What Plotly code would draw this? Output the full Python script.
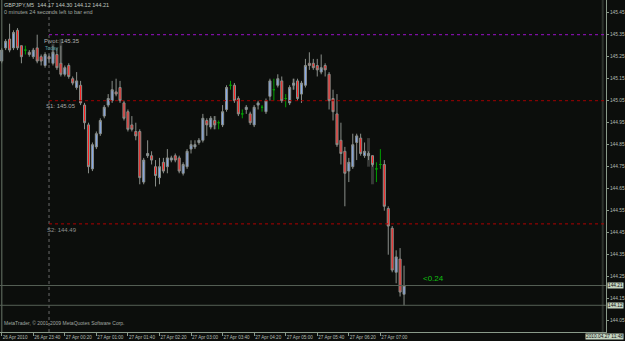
import plotly.graph_objects as go

# ---- data (GBPJPY, M5; index 0 = 26 Apr 2010 23:00) ----
opens = [145.23,145.29,145.33,145.29,145.37,145.30,145.28,145.27,145.25,145.29,
         145.25,145.21,145.25,145.22,145.26,145.22,145.17,145.21,145.15,145.11,
         145.12,145.03,144.94,144.74,144.84,144.90,144.98,145.03,145.05,145.09,
         145.11,145.04,145.00,144.94,144.91,144.91,144.68,144.80,144.80,144.75,
         144.70,144.77,144.75,144.78,144.80,144.79,144.72,144.75,144.83,144.84,
         144.86,144.87,144.96,144.93,144.96,144.95,144.94,145.01,145.12,145.12,
         145.06,144.99,145.01,144.99,144.94,145.03,145.02,145.00,145.07,145.10,
         145.12,145.14,145.06,145.04,145.12,145.14,145.08,145.12,145.22,145.22,
         145.21,145.18,145.21,145.17,145.06,144.99,144.87,144.82,144.73,144.75,
         144.86,144.88,144.80,144.80,144.80,144.74,144.76,144.76,144.56,144.47,
         144.27,144.33,144.17]
highs = [145.29,145.33,145.40,145.37,145.38,145.30,145.30,145.28,145.29,145.35,
         145.26,145.27,145.26,145.30,145.29,145.30,145.21,145.22,145.16,145.18,
         145.14,145.04,144.95,144.86,144.91,144.97,145.03,145.08,145.14,145.15,
         145.14,145.05,145.01,144.98,144.95,144.92,144.79,144.87,144.82,144.78,
         144.79,144.79,144.83,144.80,144.81,144.80,144.77,144.83,144.87,144.87,
         144.88,144.99,144.97,144.98,144.98,144.96,145.03,145.12,145.14,145.13,
         145.07,145.01,145.03,145.00,145.03,145.05,145.03,145.06,145.15,145.15,
         145.17,145.16,145.08,145.12,145.15,145.15,145.14,145.24,145.27,145.24,
         145.24,145.26,145.22,145.18,145.10,145.08,144.95,144.84,144.79,144.90,
         144.90,144.90,144.86,144.82,144.80,144.77,144.83,144.78,144.57,144.48,
         144.37,144.38,144.30]
lows = [145.22,145.28,145.27,145.28,145.28,145.22,145.26,145.25,145.24,145.22,
        145.21,145.20,145.22,145.21,145.19,145.16,145.16,145.15,145.12,145.10,
        145.03,144.92,144.72,144.73,144.83,144.89,144.97,145.02,145.04,145.07,
        145.04,144.96,144.91,144.91,144.87,144.67,144.67,144.79,144.76,144.66,
        144.67,144.72,144.72,144.77,144.77,144.72,144.71,144.74,144.81,144.83,
        144.85,144.86,144.89,144.92,144.92,144.92,144.93,145.00,145.10,145.04,
        144.98,144.97,144.99,144.94,144.93,145.01,145.00,144.99,145.05,145.05,
        145.11,145.04,145.02,145.03,145.10,145.05,145.04,145.11,145.19,145.19,
        145.16,145.17,145.16,145.01,144.96,144.84,144.76,144.57,144.68,144.74,
        144.78,144.80,144.79,144.78,144.75,144.68,144.74,144.55,144.35,144.27,
        144.22,144.16,144.12]
closes = [145.28,145.32,145.28,145.36,145.29,145.25,145.28,145.26,145.28,145.23,
          145.23,145.26,145.24,145.27,145.20,145.17,145.20,145.16,145.13,145.14,
          145.04,144.95,144.75,144.85,144.90,144.96,145.02,145.06,145.10,145.08,
          145.05,144.97,144.92,144.92,144.89,144.70,144.78,144.81,144.78,144.71,
          144.75,144.73,144.79,144.79,144.78,144.73,144.76,144.82,144.85,144.85,
          144.87,144.97,144.94,144.97,144.94,144.95,145.00,145.11,145.12,145.05,
          144.99,144.99,145.02,144.95,145.02,145.04,145.02,145.05,145.14,145.10,
          145.15,145.05,145.06,145.11,145.13,145.06,145.13,145.21,145.21,145.20,
          145.19,145.20,145.19,145.05,145.00,144.85,144.81,144.72,144.77,144.85,
          144.89,144.81,144.82,144.81,144.76,144.74,144.76,144.57,144.48,144.28,
          144.34,144.18,144.21]

# dark grey shadow bars seen behind a few candles
shadow_index = [13, 15, 54, 74, 93, 94]
shadow_top = [145.31, 145.33, 144.98, 145.15, 144.88, 144.80]
shadow_bottom = [145.24, 145.18, 144.92, 145.10, 144.75, 144.67]

time_tick_index = [0, 8, 16, 24, 32, 40, 48, 56, 64, 72, 80, 88, 96]
time_tick_labels = ["26 Apr 2010", "26 Apr 23:40", "27 Apr 00:20", "27 Apr 01:00",
                    "27 Apr 01:40", "27 Apr 02:20", "27 Apr 03:00", "27 Apr 03:40",
                    "27 Apr 04:20", "27 Apr 05:00", "27 Apr 05:40", "27 Apr 06:20",
                    "27 Apr 07:00"]
price_ticks = [144.05, 144.15, 144.25, 144.35, 144.45, 144.55, 144.65, 144.75,
               144.85, 144.95, 145.05, 145.15, 145.25, 145.35, 145.45]

day_start_index = 12
pivot, s1, s2 = 145.35, 145.05, 144.49
bid_price, low_price = 144.21, 144.12
x_range = [-0.43, 153.2]
y_range = [143.9986, 145.5077]

BG = "#0c0e0c"
FONT = "Liberation Sans"
TXT = "#b4bcb4"

n = len(opens)
idx = list(range(n))
normal = [i for i in idx if opens[i] != closes[i]]
doji = [i for i in idx if opens[i] == closes[i]]

fig = go.Figure()
fig.add_trace(go.Bar(
    x=shadow_index, base=shadow_bottom,
    y=[t - b for t, b in zip(shadow_top, shadow_bottom)],
    width=0.75, marker=dict(color="#363836", line=dict(width=0)),
    showlegend=False, hoverinfo="skip"))
fig.add_trace(go.Candlestick(
    x=normal,
    open=[opens[i] for i in normal], high=[highs[i] for i in normal],
    low=[lows[i] for i in normal], close=[closes[i] for i in normal],
    increasing=dict(fillcolor="#86a9ec", line=dict(color="#8a8f8a", width=1)),
    decreasing=dict(fillcolor="#ff1f1f", line=dict(color="#8a8f8a", width=1)),
    whiskerwidth=0, showlegend=False, hoverinfo="skip"))
fig.add_trace(go.Candlestick(
    x=doji,
    open=[opens[i] for i in doji], high=[highs[i] for i in doji],
    low=[lows[i] for i in doji], close=[closes[i] for i in doji],
    increasing=dict(fillcolor="#00a000", line=dict(color="#00a000", width=1)),
    decreasing=dict(fillcolor="#00a000", line=dict(color="#00a000", width=1)),
    whiskerwidth=0, showlegend=False, hoverinfo="skip"))

shapes = []
# period separator
shapes.append(dict(type="line", xref="x", yref="paper", x0=day_start_index, x1=day_start_index,
                   y0=0, y1=1, line=dict(color="#6a6a6a", width=1, dash="dot")))
# left frame line
shapes.append(dict(type="line", xref="paper", yref="paper", x0=0.003, x1=0.003, y0=0, y1=1,
                   line=dict(color="#6a766a", width=1)))
# faint shift marker near right
shapes.append(dict(type="line", xref="paper", yref="paper", x0=0.9945, x1=0.9945, y0=0, y1=1,
                   line=dict(color="#2c322c", width=2)))
# pivot levels
for lvl, col in [(pivot, "#9a10c8"), (s1, "#a00000"), (s2, "#b00000")]:
    shapes.append(dict(type="line", xref="x", yref="y", x0=day_start_index, x1=x_range[1],
                       y0=lvl, y1=lvl, line=dict(color=col, width=1, dash="dot")))
# bid / low lines
for lvl in [bid_price, low_price]:
    shapes.append(dict(type="line", xref="paper", yref="y", x0=0, x1=1, y0=lvl, y1=lvl,
                       line=dict(color="#566056", width=1)))

ann = []
def txt(x, y, s, color=TXT, size=6, xanchor="left", yanchor="middle", xref="x", yref="y", **kw):
    ann.append(dict(x=x, y=y, xref=xref, yref=yref, text=s, showarrow=False,
                    xanchor=xanchor, yanchor=yanchor,
                    font=dict(family=FONT, size=size, color=color), **kw))

txt(0.003, 0.999, "GBPJPY,M5  144.17 144.30 144.12 144.21", xref="paper", yref="paper",
    yanchor="top", color="#c0c8c0", size=5.5)
txt(0.003, 0.979, "0 minutes 24 seconds left to bar end", xref="paper", yref="paper",
    yanchor="top", color="#a0a8a0", size=5.5)
txt(10.2, pivot - 0.005, "Pivot: " + f"{pivot:.2f}", yanchor="top", color="#b0b0b0")
txt(10.4, 145.288, "Today", yanchor="middle", color="#4f9aa0", size=5)
txt(10.7, s1 - 0.003, "S1: " + f"{s1:.2f}", yanchor="top", color="#a8a8a8")
txt(10.9, s2 - 0.003, "S2: " + f"{s2:.2f}", yanchor="top", color="#909090")
txt(106.3, 144.243, "<0.24", color="#10c010", size=8)
txt(0.003, 0.012, "MetaTrader, © 2001-2009 MetaQuotes Software Corp.", xref="paper",
    yref="paper", yanchor="bottom", color="#a0a8a0", size=5)
for lvl in [bid_price, low_price]:
    txt(1.0015, lvl, f"{lvl:.2f}", xref="paper", color="#101010", bgcolor="#c4d4c0",
        borderpad=0, size=4.8)
txt(1.0305, -0.003, "2010.04.27 11:48", xref="paper", yref="paper", xanchor="right",
    yanchor="top", color="#101010", bgcolor="#c4d4c0", borderpad=0, size=4.8)

fig.update_layout(
    width=625, height=341, margin=dict(l=0, r=19, t=0, b=9, autoexpand=False),
    paper_bgcolor=BG, plot_bgcolor=BG, boxgap=0.25, barmode="overlay",
    shapes=shapes, annotations=ann, showlegend=False,
    font=dict(family=FONT, size=6, color=TXT),
    xaxis=dict(range=x_range, rangeslider=dict(visible=False), showgrid=False,
               zeroline=False, tickmode="array", tickvals=time_tick_index,
               ticktext=time_tick_labels, ticks="outside", ticklen=3, tickcolor="#8a9a8a",
               ticklabelposition="outside right", tickangle=0, automargin=False,
               showline=True, linecolor="#8a9a8a", linewidth=1,
               tickfont=dict(family=FONT, size=4.6, color=TXT)),
    yaxis=dict(range=y_range, side="right", showgrid=False, zeroline=False,
               tickmode="array", tickvals=price_ticks, automargin=False,
               ticktext=[f"{v:.2f}" for v in price_ticks], ticks="outside", ticklen=2,
               tickcolor="#8a9a8a", showline=True, linecolor="#8a9a8a", linewidth=1,
               tickfont=dict(family=FONT, size=4.8, color=TXT)),
)

fig.write_html("out.html")
